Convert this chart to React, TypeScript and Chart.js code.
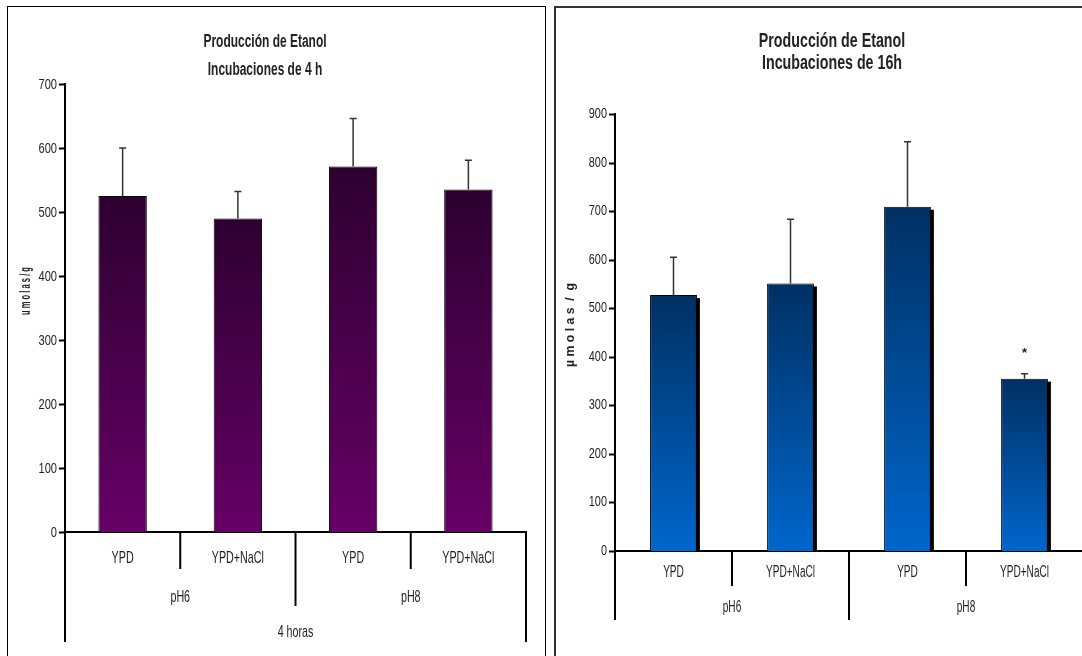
import React, { useEffect, useRef } from "react";
import { Chart, registerables } from "chart.js";

Chart.register(...registerables);

// ---------------- data ----------------
const categories = ["YPD", "YPD+NaCl", "YPD", "YPD+NaCl"];
const phGroups = ["pH6", "pH8"];
const timeGroup4h = ["4 horas"];
const timeGroup16h: string[] = [];

const values4h = [525, 490, 571, 535];
const errors4h = [75, 42, 75, 46];
const marks4h = ["", "", "", ""];

const values16h = [527, 551, 709, 355];
const errors16h = [78, 132, 134, 10];
const marks16h = ["", "", "", "*"];

const yTicks4h = [0, 100, 200, 300, 400, 500, 600, 700];
const yTicks16h = [0, 100, 200, 300, 400, 500, 600, 700, 800, 900];

const title4h = ["Producción de Etanol", "Incubaciones de 4 h"];
const title16h = ["Producción de Etanol", "Incubaciones de 16h"];
const yTitle4h = "u m o l a s / g";
const yTitle16h = "µ m o l a s  /  g";

// ---------------- layout / style ----------------
const FONT = '"Liberation Sans", Arial, sans-serif';
const TEXT = "#1e1e1e";

type Panel = {
  left: number;
  width: number;
  height: number;
  padTop: number;
  padRight: number;
  yWidth: number;
  xHeight: number;
  max: number;
  yTicks: number[];
  values: number[];
  errors: number[];
  marks: string[];
  labels: string[];
  groups: string[];
  outer: string[];
  title: string[];
  titleX: number;
  titleY: number[];
  titleSize: number;
  titleSx: number;
  yTitle: string;
  yTitleX: number;
  yTitleY: number;
  yTitleLen: number;
  yTitleSize: number;
  tickSize: number;
  tickSx: number;
  labelSize: number;
  labelSx: number;
  rowY: number[];
  depth: { short: number; mid: number; outer: number };
  gradTop: string;
  gradBottom: string;
  shadow: boolean;
  barPct: number;
  errColor: string;
};

const panel4h: Panel = {
  left: 0,
  width: 550,
  height: 656,
  padTop: 84,
  padRight: 24,
  yWidth: 65,
  xHeight: 124,
  max: 700,
  yTicks: yTicks4h,
  values: values4h,
  errors: errors4h,
  marks: marks4h,
  labels: categories,
  groups: phGroups,
  outer: timeGroup4h,
  title: title4h,
  titleX: 265,
  titleY: [42, 70],
  titleSize: 18,
  titleSx: 0.665,
  yTitle: yTitle4h,
  yTitleX: 26,
  yTitleY: 291,
  yTitleLen: 48,
  yTitleSize: 14,
  tickSize: 15,
  tickSx: 0.74,
  labelSize: 17,
  labelSx: 0.63,
  rowY: [26, 65, 100],
  depth: { short: 37, mid: 74, outer: 110 },
  gradTop: "#2d0030",
  gradBottom: "#660066",
  shadow: false,
  barPct: 0.42,
  errColor: "#333333",
};

const panel16h: Panel = {
  left: 550,
  width: 560,
  height: 656,
  padTop: 114,
  padRight: 27,
  yWidth: 65,
  xHeight: 105,
  max: 900,
  yTicks: yTicks16h,
  values: values16h,
  errors: errors16h,
  marks: marks16h,
  labels: categories,
  groups: phGroups,
  outer: timeGroup16h,
  title: title16h,
  titleX: 832,
  titleY: [42, 64],
  titleSize: 19.5,
  titleSx: 0.73,
  yTitle: yTitle16h,
  yTitleX: 570,
  yTitleY: 325,
  yTitleLen: 84,
  yTitleSize: 13,
  tickSize: 14,
  tickSx: 0.78,
  labelSize: 16,
  labelSx: 0.63,
  rowY: [22, 57, 92],
  depth: { short: 35, mid: 69, outer: 69 },
  gradTop: "#003063",
  gradBottom: "#0066cc",
  shadow: true,
  barPct: 0.4,
  errColor: "#333333",
};

function drawText(
  ctx: CanvasRenderingContext2D,
  text: string,
  x: number,
  y: number,
  size: number,
  bold: boolean,
  sx: number,
  align: CanvasTextAlign = "center",
  color = TEXT
) {
  ctx.save();
  ctx.font = `${bold ? "bold " : ""}${size}px ${FONT}`;
  ctx.fillStyle = color;
  ctx.textBaseline = "middle";
  ctx.textAlign = align;
  ctx.translate(x, y);
  ctx.scale(sx, 1);
  ctx.fillText(text, 0, 0);
  ctx.restore();
}

function makePlugin(p: Panel) {
  return {
    id: "panelDecor",
    beforeDatasetsDraw(chart: any) {
      if (!p.shadow) return;
      const ctx = chart.ctx as CanvasRenderingContext2D;
      const meta = chart.getDatasetMeta(0);
      ctx.save();
      ctx.fillStyle = "#000000";
      meta.data.forEach((bar: any) => {
        const top = Math.min(bar.y, bar.base);
        const h = Math.abs(bar.base - bar.y);
        ctx.fillRect(bar.x - bar.width / 2 + 3, top + 3, bar.width, h - 3);
      });
      ctx.restore();
    },
    afterDraw(chart: any) {
      const ctx = chart.ctx as CanvasRenderingContext2D;
      const xs = chart.scales.x;
      const ys = chart.scales.y;
      const area = chart.chartArea;
      const meta = chart.getDatasetMeta(0);

      // titles
      p.title.forEach((t, i) =>
        drawText(ctx, t, p.titleX - p.left, p.titleY[i], p.titleSize, true, p.titleSx, "center", "#222")
      );

      // y axis title
      ctx.save();
      ctx.translate(p.yTitleX - p.left, p.yTitleY);
      ctx.rotate(-Math.PI / 2);
      ctx.font = `bold ${p.yTitleSize}px ${FONT}`;
      const w = ctx.measureText(p.yTitle).width;
      ctx.scale(p.yTitleLen / w, 1);
      ctx.fillStyle = "#222";
      ctx.textAlign = "center";
      ctx.textBaseline = "middle";
      ctx.fillText(p.yTitle, 0, 0);
      ctx.restore();

      // y ticks
      ctx.save();
      ctx.strokeStyle = "#000";
      ctx.lineWidth = 2;
      p.yTicks.forEach((v) => {
        const y = Math.round(ys.getPixelForValue(v)) + 0.5;
        ctx.beginPath();
        ctx.moveTo(area.left - 6, y);
        ctx.lineTo(area.left, y);
        ctx.stroke();
        drawText(ctx, String(v), area.left - 8, y, p.tickSize, false, p.tickSx, "right");
      });
      ctx.restore();

      // error bars
      ctx.save();
      ctx.strokeStyle = p.errColor;
      ctx.lineWidth = 1.5;
      p.values.forEach((v, i) => {
        const bar = meta.data[i];
        const x = bar.x;
        const yTop = ys.getPixelForValue(v + p.errors[i]);
        const yBar = ys.getPixelForValue(v);
        ctx.beginPath();
        ctx.moveTo(x, yBar);
        ctx.lineTo(x, yTop);
        ctx.moveTo(x - 3.5, yTop);
        ctx.lineTo(x + 3.5, yTop);
        ctx.stroke();
        if (p.marks[i]) {
          drawText(ctx, p.marks[i], x, yTop - 20, 13, true, 1, "center", "#222");
        }
      });
      ctx.restore();

      // category dividers
      const base = area.bottom;
      ctx.save();
      ctx.strokeStyle = "#000";
      ctx.lineWidth = 2;
      for (let b = 0; b <= p.labels.length; b++) {
        const x = xs.getPixelForValue(b - 0.5);
        const depth =
          b === 0 || b === p.labels.length ? p.depth.outer : b === p.labels.length / 2 ? p.depth.mid : p.depth.short;
        ctx.beginPath();
        ctx.moveTo(x, base);
        ctx.lineTo(x, base + depth);
        ctx.stroke();
      }
      ctx.restore();

      // labels
      p.labels.forEach((l, i) =>
        drawText(ctx, l, xs.getPixelForValue(i), base + p.rowY[0], p.labelSize, false, p.labelSx)
      );
      p.groups.forEach((g, i) =>
        drawText(ctx, g, xs.getPixelForValue(i * 2 + 0.5), base + p.rowY[1], p.labelSize, false, p.labelSx)
      );
      p.outer.forEach((o) =>
        drawText(ctx, o, xs.getPixelForValue((p.labels.length - 1) / 2), base + p.rowY[2], p.labelSize, false, p.labelSx)
      );
    },
  };
}

function gradFill(p: Panel) {
  return (c: any) => {
    const chart = c.chart;
    if (!chart.chartArea || c.type !== "data") return p.gradBottom;
    const ys = chart.scales.y;
    const y0 = ys.getPixelForValue(c.raw as number);
    const y1 = ys.getPixelForValue(0);
    const g = chart.ctx.createLinearGradient(0, y0, 0, y1);
    g.addColorStop(0, p.gradTop);
    g.addColorStop(1, p.gradBottom);
    return g;
  };
}

function PanelChart({ p }: { p: Panel }) {
  const ref = useRef<HTMLCanvasElement | null>(null);
  useEffect(() => {
    if (!ref.current) return;
    const chart = new Chart(ref.current, {
      type: "bar",
      data: {
        labels: p.labels,
        datasets: [
          {
            data: p.values,
            backgroundColor: gradFill(p) as any,
            borderColor: "#000",
            borderWidth: 1,
            barPercentage: p.barPct,
            categoryPercentage: 1,
          },
        ],
      },
      options: {
        animation: false,
        responsive: false,
        maintainAspectRatio: false,
        devicePixelRatio: 1,
        events: [],
        layout: { padding: { left: 0, right: p.padRight, top: p.padTop, bottom: 0 } },
        plugins: {
          legend: { display: false },
          tooltip: { enabled: false },
          title: { display: false },
        },
        scales: {
          x: {
            grid: { display: false, drawTicks: false },
            ticks: { display: false },
            border: { display: true, color: "#000", width: 2 },
            afterFit: (s: any) => {
              s.height = p.xHeight;
            },
          },
          y: {
            min: 0,
            max: p.max,
            ticks: { display: false, stepSize: 100 },
            grid: { display: false, drawTicks: false },
            border: { display: true, color: "#000", width: 2 },
            afterFit: (s: any) => {
              s.width = p.yWidth;
            },
          },
        },
      } as any,
      plugins: [makePlugin(p)],
    });
    return () => chart.destroy();
  }, [p]);
  return (
    <canvas
      ref={ref}
      width={p.width}
      height={p.height}
      style={{ position: "absolute", left: p.left, top: 0, width: p.width, height: p.height }}
    />
  );
}

export default function App() {
  return (
    <div
      style={{
        position: "fixed",
        left: 0,
        top: 0,
        width: 1082,
        height: 656,
        overflow: "hidden",
        background: "#ffffff",
      }}
    >
      <div
        style={{
          position: "absolute",
          left: 7,
          top: 6,
          width: 537,
          height: 700,
          border: "1px solid #000",
        }}
      />
      <div
        style={{
          position: "absolute",
          left: 554,
          top: 6,
          width: 600,
          height: 700,
          border: "2px solid #333",
        }}
      />
      <PanelChart p={panel4h} />
      <PanelChart p={panel16h} />
    </div>
  );
}
